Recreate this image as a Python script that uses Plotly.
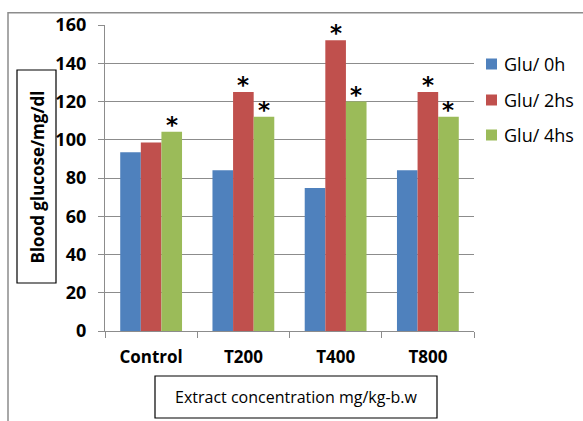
import plotly.graph_objects as go

categories = ["Control", "T200", "T400", "T800"]
series_names = ["Glu/ 0h", "Glu/ 2hs", "Glu/ 4hs"]
glu_0h = [93.5, 84, 74.8, 84]
glu_2hs = [98.5, 125, 152, 125]
glu_4hs = [104.2, 112, 120, 112]
marks_0h = ["", "", "", ""]
marks_2hs = ["", "*", "*", "*"]
marks_4hs = ["*", "*", "*", "*"]
y_ticks = [0, 20, 40, 60, 80, 100, 120, 140, 160]

colors = ["#4F81BD", "#C0504D", "#9BBB59"]
W, H = 583, 421
ML, MR, MT, MB = 105, 109, 25, 90
PW, PH = W - ML - MR, H - MT - MB


def px(x):
    return (x - ML) / PW


def py(y):
    return (H - MB - y) / PH


fig = go.Figure()
for name, vals, col in zip(series_names, [glu_0h, glu_2hs, glu_4hs], colors):
    fig.add_trace(go.Bar(
        x=categories, y=vals, name=name, marker_color=col,
        marker_line_width=0, showlegend=False,
    ))

# significance asterisks, placed above their bars
cat_w = PW / len(categories)
bar_w = cat_w * (1 - 0.33) / 3
for i, (vals, marks) in enumerate(zip([glu_0h, glu_2hs, glu_4hs],
                                      [marks_0h, marks_2hs, marks_4hs])):
    for c, v, m in zip(categories, vals, marks):
        if m:
            fig.add_annotation(x=c, y=v, text="<b>" + m + "</b>", showarrow=False,
                               xshift=(i - 1) * bar_w, yshift=-8,
                               xanchor="center", yanchor="bottom",
                               font=dict(family="DejaVu Sans", size=23, color="black"))

grid = "#8C8C8C"
fig.update_layout(
    width=W, height=H,
    margin=dict(l=ML, r=MR, t=MT, b=MB, pad=0, autoexpand=False),
    paper_bgcolor="white", plot_bgcolor="white",
    barmode="group", bargap=0.33, bargroupgap=0,
    font=dict(family="Open Sans", color="black"),
    showlegend=False,
)
fig.update_xaxes(
    showline=True, linecolor=grid, linewidth=1.3,
    ticks="outside", tickson="boundaries", ticklen=6, tickcolor=grid,
    showgrid=False, ticklabelstandoff=10,
    tickfont=dict(family="Open Sans", size=17, color="black", weight="bold"),
)
fig.update_yaxes(
    range=[0, 160], tickvals=y_ticks,
    showline=True, linecolor=grid, linewidth=1.3,
    ticks="outside", ticklen=6, tickcolor=grid, ticklabelstandoff=8,
    showgrid=True, gridcolor=grid, gridwidth=1.3, zeroline=False,
    tickfont=dict(family="Open Sans", size=18, color="black", weight="bold"),
)

shapes = [
    dict(type="rect", xref="paper", yref="paper",
         x0=px(8), x1=px(620), y0=py(460), y1=py(12.7),
         line=dict(color="#8C8C8C", width=1.5)),
    dict(type="rect", xref="paper", yref="paper",
         x0=px(17), x1=px(56), y0=py(283), y1=py(70),
         line=dict(color="black", width=1.2), fillcolor="white", layer="above"),
    dict(type="rect", xref="paper", yref="paper",
         x0=px(155), x1=px(437), y0=py(418), y1=py(376),
         line=dict(color="black", width=1.2), fillcolor="white", layer="above"),
]

# manual legend (square swatch + label), laid out like the original
legend_rows = [64, 100, 135]
for name, col, ry in zip(series_names, colors, legend_rows):
    shapes.append(dict(type="rect", xref="paper", yref="paper",
                       x0=px(486), x1=px(497), y0=py(ry + 5.5), y1=py(ry - 5.5),
                       line=dict(width=0), fillcolor=col))
    fig.add_annotation(xref="paper", yref="paper", x=px(502), y=py(ry),
                       text=name, showarrow=False, xanchor="left", yanchor="middle",
                       font=dict(family="Open Sans", size=18, color="black"))

fig.update_layout(shapes=shapes)
fig.add_annotation(xref="paper", yref="paper", x=px(36.5), y=py(177),
                   text="<b>Blood glucose/mg/dl</b>", textangle=-90,
                   showarrow=False, xanchor="center", yanchor="middle",
                   font=dict(family="Open Sans", size=17, color="black"))
fig.add_annotation(xref="paper", yref="paper", x=px(296), y=py(397),
                   text="Extract concentration mg/kg-b.w",
                   showarrow=False, xanchor="center", yanchor="middle",
                   font=dict(family="Open Sans", size=16, color="black"))

fig.write_html("out.html")
